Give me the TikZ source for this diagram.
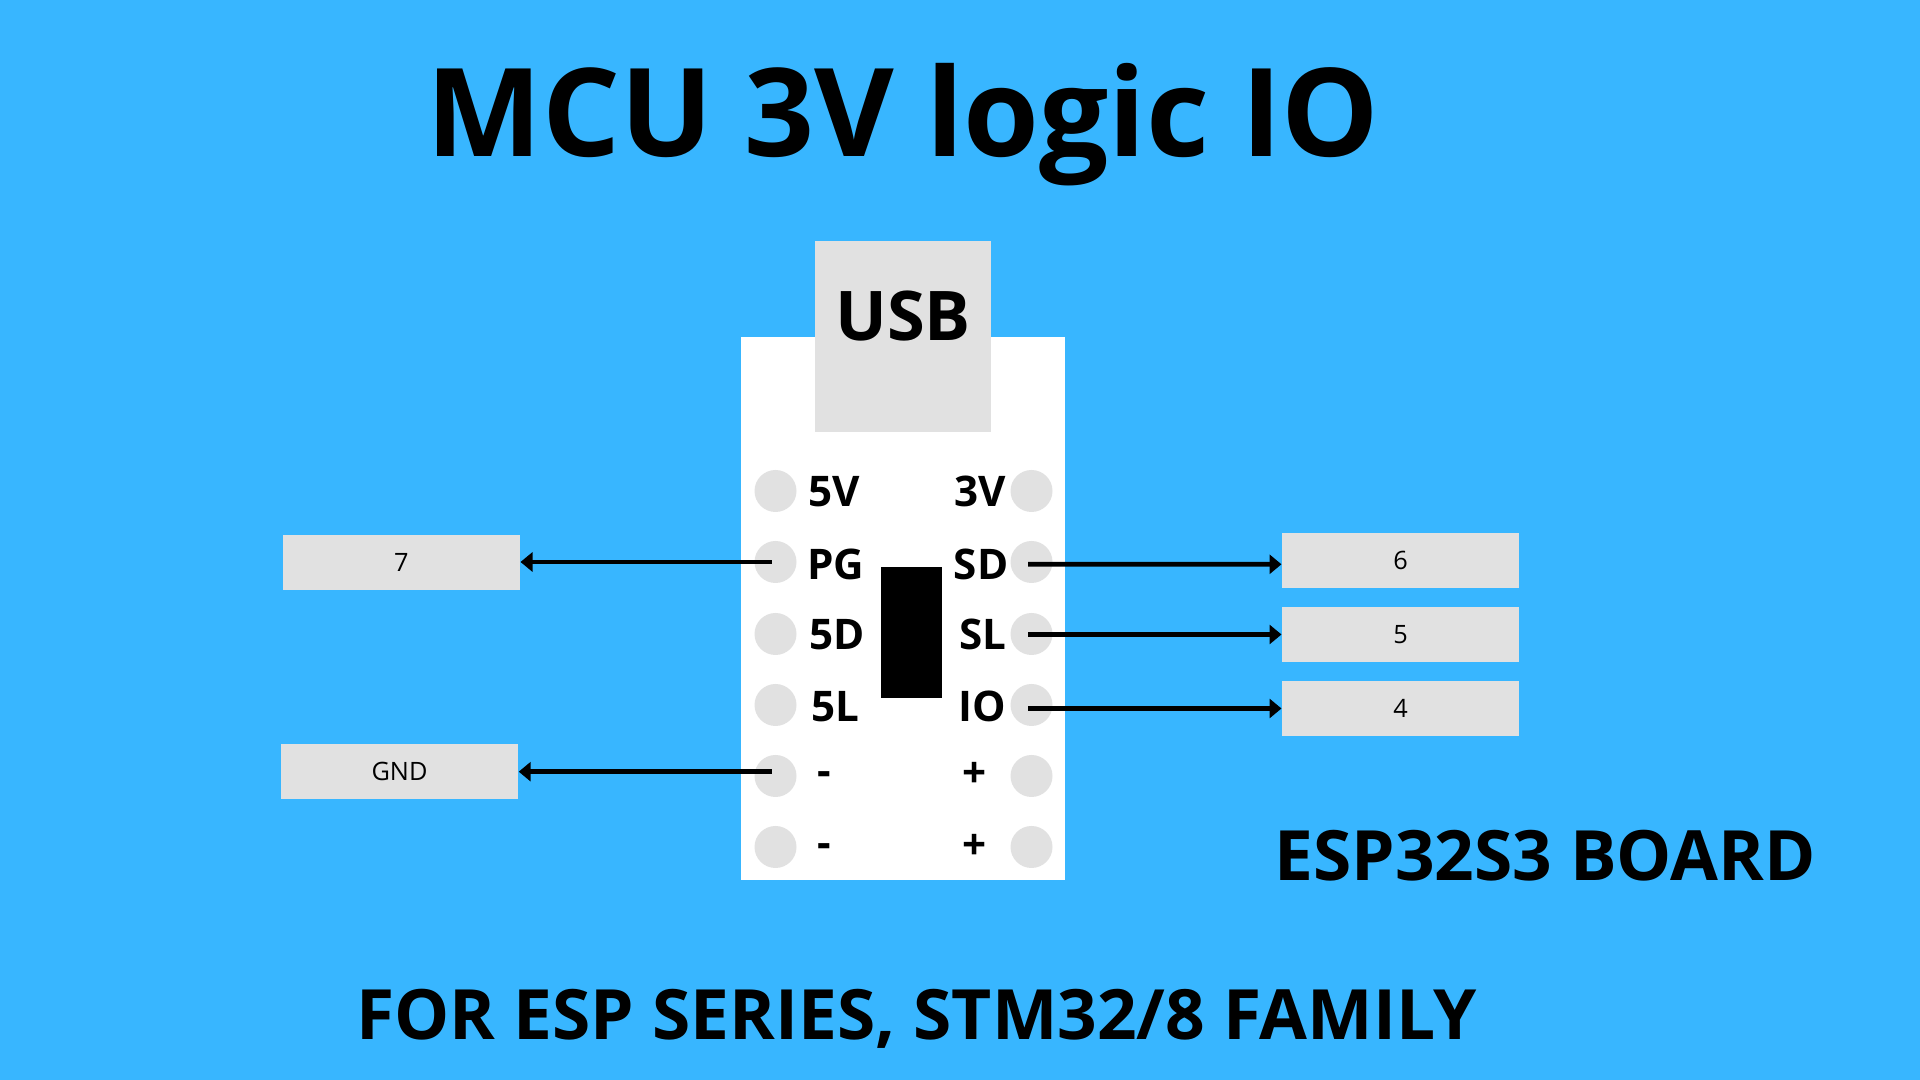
\documentclass[tikz,border=0pt]{standalone}
\usepackage{fontspec}
\setmainfont{Open Sans}
\usetikzlibrary{arrows.meta}
\definecolor{skyback}{HTML}{38B6FF}
\definecolor{padgray}{HTML}{E1E1E1}
\tikzset{
	pcb/.style={fill=white,minimum width=3.24cm,minimum height=5.43cm,inner sep=0pt},
	usbplug/.style={fill=padgray,minimum width=1.76cm,minimum height=1.91cm,inner sep=0pt},
	chip/.style={fill=black,minimum width=.61cm,minimum height=1.31cm,inner sep=0pt},
	hole/.style={circle,fill=padgray,minimum size=.42cm,inner sep=0pt},
	pinlabel/.style={anchor=base,inner sep=0pt,font=\fontsize{12}{12}\selectfont\bfseries},
	target/.style={fill=padgray,minimum width=2.37cm,minimum height=.55cm,inner sep=0pt,font=\fontsize{7.2}{7.2}\selectfont},
	wire/.style={line width=1.35pt,-{Triangle[length=.12cm,width=.19cm]}},
	headline/.style={anchor=base,inner sep=0pt,font=\bfseries}
}
\begin{document}
\begin{tikzpicture}

	\fill[skyback] (0,0) rectangle (19.2,10.8);
	\useasboundingbox (0,0) rectangle (19.2,10.8);

	\node[headline,font=\fontsize{34.9}{34.9}\selectfont\bfseries] (title) at (9.03,9.23) {MCU 3V logic IO};

	\node[pcb] (board) at (9.03,4.715) {};
	\node[usbplug] (usb) at (9.03,7.43) {};
	\node[headline,font=\fontsize{19.5}{19.5}\selectfont\bfseries] (usbtext) at (9.03,7.39) {USB};
	\node[chip] (ic) at (9.115,4.475) {};

	\node[hole] (pinFiveV) at (7.755,5.89) {};
	\node[hole] (pinPG) at (7.755,5.18) {};
	\node[hole] (pinFiveD) at (7.755,4.46) {};
	\node[hole] (pinFiveL) at (7.755,3.75) {};
	\node[hole] (pinMinusA) at (7.755,3.04) {};
	\node[hole] (pinMinusB) at (7.755,2.33) {};
	\node[hole] (pinThreeV) at (10.315,5.89) {};
	\node[hole] (pinSD) at (10.315,5.18) {};
	\node[hole] (pinSL) at (10.315,4.46) {};
	\node[hole] (pinIO) at (10.315,3.75) {};
	\node[hole] (pinPlusA) at (10.315,3.04) {};
	\node[hole] (pinPlusB) at (10.315,2.33) {};

	\node[pinlabel] (textFiveV) at (8.34,5.73) {5V};
	\node[pinlabel] (textPG) at (8.36,5.005) {PG};
	\node[pinlabel] (textFiveD) at (8.375,4.30) {5D};
	\node[pinlabel] (textFiveL) at (8.355,3.58) {5L};
	\node[pinlabel] (textMinusA) at (8.24,2.94) {-};
	\node[pinlabel] (textMinusB) at (8.24,2.22) {-};
	\node[pinlabel] (textThreeV) at (9.80,5.73) {3V};
	\node[pinlabel] (textSD) at (9.81,5.005) {SD};
	\node[pinlabel] (textSL) at (9.83,4.30) {SL};
	\node[pinlabel] (textIO) at (9.82,3.58) {IO};
	\node[pinlabel] (textPlusA) at (9.75,2.92) {+};
	\node[pinlabel] (textPlusB) at (9.75,2.20) {+};

	\node[target] (boxseven) at (4.013,5.175) {7};
	\node[target] (boxgnd) at (3.995,3.083) {GND};
	\node[target] (boxsix) at (14.007,5.194) {6};
	\node[target] (boxfive) at (14.007,4.455) {5};
	\node[target] (boxfour) at (14.007,3.715) {4};

	\draw[wire] ([xshift=-.04cm]pinPG.center) -- (pinPG.center -| boxseven.east);
	\draw[wire] ([xshift=-.04cm]pinMinusA.center |- boxgnd.east) -- (boxgnd.east);
	\draw[wire] ([shift={(-.035,-.023)}]pinSD.center) -- ([yshift=-.037cm]boxsix.west);
	\draw[wire] ([xshift=-.035cm]pinSL.center |- boxfive.west) -- (boxfive.west);
	\draw[wire] ([xshift=-.035cm]pinIO.center |- boxfour.west) -- (boxfour.west);

	\node[headline,font=\fontsize{19.75}{19.75}\selectfont\bfseries] (boardname) at (15.45,1.995) {ESP32S3 BOARD};
	\node[headline,font=\fontsize{19.75}{19.75}\selectfont\bfseries] (footer) at (9.165,.40) {FOR ESP SERIES, STM32/8 FAMILY};

\end{tikzpicture}
\end{document}
